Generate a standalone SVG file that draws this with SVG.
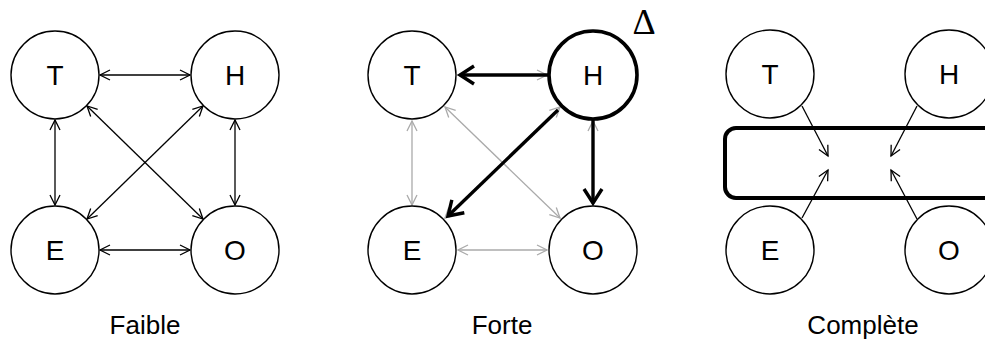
<svg xmlns="http://www.w3.org/2000/svg" width="985" height="340" viewBox="0 0 985 340">
<style>
.n{fill:#fff;stroke:#000;stroke-width:1.4}
.nb{fill:#fff;stroke:#000;stroke-width:3.6}
.t{font-family:"Liberation Sans",Arial,sans-serif;font-size:28px;text-anchor:middle;fill:#000}
.cap{font-family:"Liberation Sans",Arial,sans-serif;font-size:26px;text-anchor:middle;fill:#000}
.a{stroke:#000;stroke-width:1.3;fill:none}
.g{stroke:#aaa;stroke-width:1.3;fill:none}
.b{stroke:#000;stroke-width:3.4;fill:none}
</style>
<defs>
<marker id="ah" markerUnits="userSpaceOnUse" viewBox="-12 -7 14 14" markerWidth="14" markerHeight="14" refX="0" refY="0" orient="auto-start-reverse"><path d="M-10,-5 L0,0 L-10,5" fill="none" stroke="#000" stroke-width="1.3"/></marker>
<marker id="gh" markerUnits="userSpaceOnUse" viewBox="-12 -7 14 14" markerWidth="14" markerHeight="14" refX="0" refY="0" orient="auto-start-reverse"><path d="M-10,-5 L0,0 L-10,5" fill="none" stroke="#aaa" stroke-width="1.3"/></marker>
<marker id="bh" markerUnits="userSpaceOnUse" viewBox="-18 -12 22 24" markerWidth="22" markerHeight="24" refX="0" refY="0" orient="auto"><path d="M-14,-9 L0,0 L-14,9" fill="none" stroke="#000" stroke-width="3.4" stroke-linejoin="miter"/></marker>
</defs>
<rect width="985" height="340" fill="#fff"/>
<g id="connectors">
<line class="a" x1="100" y1="75" x2="190" y2="75" marker-start="url(#ah)" marker-end="url(#ah)"/>
<line class="a" x1="100" y1="250" x2="190" y2="250" marker-start="url(#ah)" marker-end="url(#ah)"/>
<line class="a" x1="55" y1="120" x2="55" y2="205" marker-start="url(#ah)" marker-end="url(#ah)"/>
<line class="a" x1="235" y1="120" x2="235" y2="205" marker-start="url(#ah)" marker-end="url(#ah)"/>
<line class="a" x1="87" y1="106" x2="203" y2="219" marker-start="url(#ah)" marker-end="url(#ah)"/>
<line class="a" x1="203" y1="106" x2="87" y2="219" marker-start="url(#ah)" marker-end="url(#ah)"/>
<line class="g" x1="458" y1="75" x2="547" y2="75" marker-start="url(#gh)" marker-end="url(#gh)"/>
<line class="g" x1="458" y1="250" x2="547" y2="250" marker-start="url(#gh)" marker-end="url(#gh)"/>
<line class="g" x1="412" y1="121" x2="412" y2="205" marker-start="url(#gh)" marker-end="url(#gh)"/>
<line class="g" x1="593" y1="121" x2="593" y2="205" marker-start="url(#gh)" marker-end="url(#gh)"/>
<line class="g" x1="445" y1="107" x2="560" y2="218" marker-start="url(#gh)" marker-end="url(#gh)"/>
<line class="g" x1="560" y1="107" x2="445" y2="218" marker-start="url(#gh)" marker-end="url(#gh)"/>
<line class="b" x1="548" y1="75" x2="460" y2="75" marker-end="url(#bh)"/>
<line class="b" x1="593" y1="120" x2="593" y2="203" marker-end="url(#bh)"/>
<line class="b" x1="558" y1="110" x2="448" y2="216" marker-end="url(#bh)"/>
<line class="a" x1="802" y1="106" x2="828" y2="156" marker-end="url(#ah)"/>
<line class="a" x1="917" y1="106" x2="891" y2="156" marker-end="url(#ah)"/>
<line class="a" x1="802" y1="218" x2="828" y2="170" marker-end="url(#ah)"/>
<line class="a" x1="917" y1="219" x2="891" y2="170" marker-end="url(#ah)"/>
</g>
<g id="p1-T"><circle class="n" cx="55" cy="75" r="44"/><text class="t" x="55" y="85">T</text></g>
<g id="p1-H"><circle class="n" cx="235" cy="75" r="44"/><text class="t" x="235" y="85">H</text></g>
<g id="p1-E"><circle class="n" cx="55" cy="250" r="44"/><text class="t" x="55" y="260">E</text></g>
<g id="p1-O"><circle class="n" cx="235" cy="250" r="44"/><text class="t" x="235" y="260">O</text></g>
<g id="p2-T"><circle class="n" cx="412" cy="75" r="44"/><text class="t" x="412" y="85">T</text></g>
<g id="p2-H"><circle class="nb" cx="593" cy="75" r="44"/><text class="t" x="593" y="85">H</text></g>
<g id="p2-E"><circle class="n" cx="412" cy="250" r="44"/><text class="t" x="412" y="260">E</text></g>
<g id="p2-O"><circle class="n" cx="593" cy="250" r="44"/><text class="t" x="593" y="260">O</text></g>
<g id="delta"><text x="644" y="34" font-family="'Liberation Serif','Times New Roman',serif" font-size="36" text-anchor="middle">Δ</text></g>
<g id="p3-box"><rect x="725" y="128" width="290" height="70" rx="11" fill="none" stroke="#000" stroke-width="4"/></g>
<g id="p3-T"><circle class="n" cx="770" cy="74" r="44"/><text class="t" x="770" y="84">T</text></g>
<g id="p3-H"><circle class="n" cx="949" cy="74" r="44"/><text class="t" x="949" y="84">H</text></g>
<g id="p3-E"><circle class="n" cx="770" cy="250" r="44"/><text class="t" x="770" y="260">E</text></g>
<g id="p3-O"><circle class="n" cx="949" cy="250" r="44"/><text class="t" x="949" y="260">O</text></g>
<g id="captions">
<text class="cap" x="145" y="334">Faible</text>
<text class="cap" x="502" y="334">Forte</text>
<text class="cap" x="863" y="334">Complète</text>
</g>
</svg>
